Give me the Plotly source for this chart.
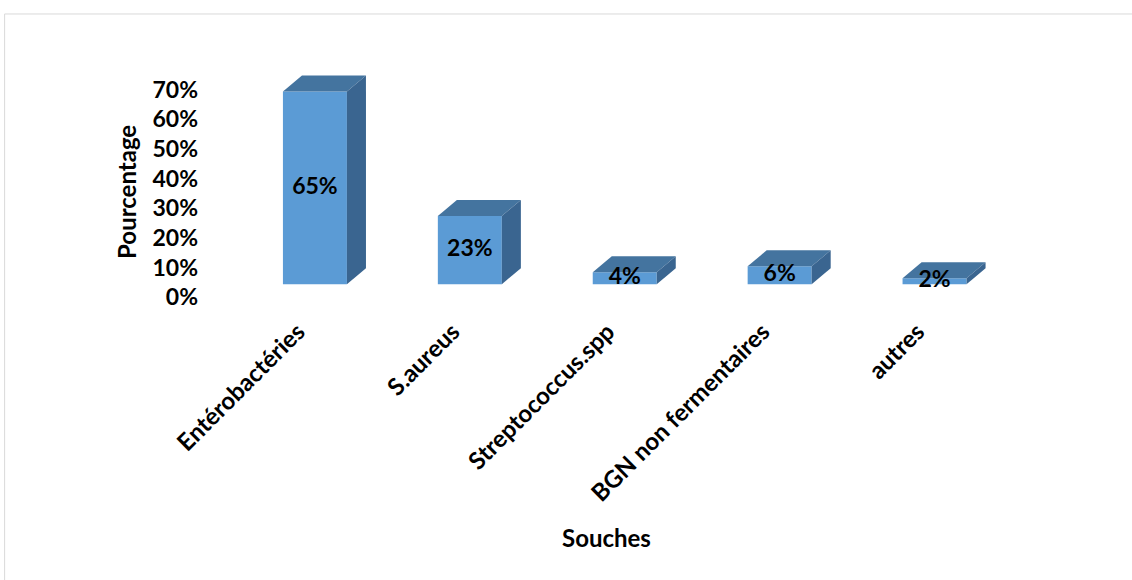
import plotly.graph_objects as go

# Data
souches = ["Entérobactéries", "S.aureus", "Streptococcus.spp", "BGN non fermentaires", "autres"]
pourcentages = [65, 23, 4, 6, 2]
tick_vals = [0, 10, 20, 30, 40, 50, 60, 70]
tick_text = ["0%", "10%", "20%", "30%", "40%", "50%", "60%", "70%"]

# 3D look (Excel-style box bars)
BAR_W = 0.413          # front face width in category units
DEPTH_X = 0.123        # receding depth, category units
DEPTH_Y = 5.4          # receding depth, percent units
FLOOR = 4.4            # front faces sit above the labelled axis zero
LABEL_SHIFT = 0.11     # category labels sit slightly left of the bar centre
Y_RANGE = [-5, 78]

FRONT = "#5B9BD5"
TOP = "#44749F"
SIDE = "#3A6590"
FONT = "Lato"

x = list(range(len(souches)))

fig = go.Figure()

# Front faces
fig.add_trace(go.Bar(
    x=x, y=pourcentages, base=FLOOR, width=BAR_W,
    marker=dict(color=FRONT, line=dict(width=0)),
    hoverinfo="skip", showlegend=False,
))

# Top and side faces built from each value
for i, v in zip(x, pourcentages):
    l, r = i - BAR_W / 2, i + BAR_W / 2
    b, t = FLOOR, FLOOR + v
    fig.add_trace(go.Scatter(
        x=[l, r, r + DEPTH_X, l + DEPTH_X, l],
        y=[t, t, t + DEPTH_Y, t + DEPTH_Y, t],
        mode="lines", fill="toself", fillcolor=TOP,
        line=dict(width=0, color=TOP), hoverinfo="skip", showlegend=False,
    ))
    fig.add_trace(go.Scatter(
        x=[r, r + DEPTH_X, r + DEPTH_X, r, r],
        y=[b, b + DEPTH_Y, t + DEPTH_Y, t, b],
        mode="lines", fill="toself", fillcolor=SIDE,
        line=dict(width=0, color=SIDE), hoverinfo="skip", showlegend=False,
    ))

# Value labels centred on the front faces
fig.add_trace(go.Scatter(
    x=x, y=[FLOOR + v / 2 for v in pourcentages],
    mode="text", text=[f"{v}%" for v in pourcentages],
    textfont=dict(family=FONT, size=23, color="black", weight="bold"),
    hoverinfo="skip", showlegend=False,
))

# Plot area in pixels: the y tick labels hang at the left paper edge,
# the bars start a little further right.
L, R, T, B = 198, 119.5, 66.4, 268.2
X_START = 237.5
W_PAPER = 1132 - L - R
H_PLOT = 580 - T - B

def px_to_paper_x(px):
    return (px - L) / W_PAPER

def px_to_paper_y(py):
    return (580 - B - py) / H_PLOT

fig.update_layout(
    width=1132, height=580,
    margin=dict(l=L, r=R, t=T, b=B),
    paper_bgcolor="white", plot_bgcolor="white",
    font=dict(family=FONT, color="black"),
    xaxis=dict(
        domain=[px_to_paper_x(X_START), 1],
        range=[-0.5, 4.5], tickmode="array",
        tickvals=[i - LABEL_SHIFT for i in x], ticktext=souches,
        tickangle=-45, showgrid=False, zeroline=False, showline=False,
        ticks="", tickfont=dict(family=FONT, size=24, weight="bold"),
        fixedrange=True,
    ),
    yaxis=dict(
        range=Y_RANGE, tickmode="array", tickvals=tick_vals, ticktext=tick_text,
        anchor="free", position=0,
        showgrid=False, zeroline=False, showline=False, ticks="",
        tickfont=dict(family=FONT, size=23, weight="bold"),
        fixedrange=True,
    ),
    annotations=[
        dict(text="<b>Pourcentage</b>", textangle=-90, showarrow=False,
             xref="paper", yref="paper", xanchor="center", yanchor="middle",
             x=px_to_paper_x(127), y=px_to_paper_y(192),
             font=dict(family=FONT, size=24)),
        dict(text="<b>Souches</b>", showarrow=False,
             xref="paper", yref="paper", xanchor="center", yanchor="middle",
             x=px_to_paper_x(607), y=px_to_paper_y(537),
             font=dict(family=FONT, size=24)),
    ],
    shapes=[
        dict(type="rect", xref="paper", yref="paper",
             x0=px_to_paper_x(4.5), x1=px_to_paper_x(1145),
             y0=px_to_paper_y(600), y1=px_to_paper_y(14.5),
             line=dict(color="#D9D9D9", width=1), fillcolor="rgba(0,0,0,0)",
             layer="below"),
    ],
)

fig.write_html("out.html")
